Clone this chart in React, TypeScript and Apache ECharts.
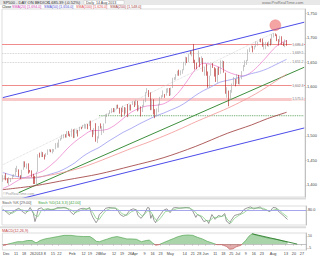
import React, { useEffect, useRef } from 'react';
import * as echarts from 'echarts';

// ---------- categories (trading days) ----------
const tradingDays: [string, number[]][] = [
  ['2012-11', [29, 30]],
  ['2012-12', [3, 4, 5, 6, 7, 10, 11, 12, 13, 14, 17, 18, 19, 20, 21, 24, 26, 27, 28, 31]],
  ['2013-01', [2, 3, 4, 7, 8, 9, 10, 11, 14, 15, 16, 17, 18, 22, 23, 24, 25, 28, 29, 30, 31]],
  ['2013-02', [1, 4, 5, 6, 7, 8, 11, 12, 13, 14, 15, 19, 20, 21, 22, 25, 26, 27, 28]],
  ['2013-03', [1, 4, 5, 6, 7, 8, 11, 12, 13, 14, 15, 18, 19, 20, 21, 22, 25, 26, 27, 28]],
  ['2013-04', [1, 2, 3, 4, 5, 8, 9, 10, 11, 12, 15, 16, 17, 18, 19, 22, 23, 24, 25, 26, 29, 30]],
  ['2013-05', [1, 2, 3, 6, 7, 8, 9, 10, 13, 14, 15, 16, 17, 20, 21, 22, 23, 24, 28, 29, 30, 31]],
  ['2013-06', [3, 4, 5, 6, 7, 10, 11, 12, 13, 14, 17, 18, 19, 20, 21, 24, 25, 26, 27, 28]],
  ['2013-07', [1, 2, 3, 5, 8, 9, 10, 11, 12, 15, 16, 17, 18, 19, 22, 23, 24, 25, 26, 29, 30, 31]],
  ['2013-08', [1, 2, 5, 6, 7, 8, 9, 12, 13, 14, 15, 16, 19, 20, 21, 22, 23, 26, 27, 28, 29]],
];
const dates: string[] = tradingDays.flatMap(([m, ds]) => ds.map((d) => `${m}-${String(d).padStart(2, '0')}`));

const tickLabels: [string, string][] = [
  ['2012-12-03', 'Dec'], ['2012-12-11', '11'], ['2012-12-18', '18'], ['2012-12-26', '26'],
  ['2013-01-02', '2013'], ['2013-01-08', '8'], ['2013-01-15', '15'], ['2013-01-22', '22'],
  ['2013-02-01', 'Feb'], ['2013-02-12', '12'], ['2013-02-19', '19'], ['2013-02-26', '26'],
  ['2013-03-01', 'Mar'], ['2013-03-12', '12'], ['2013-03-19', '19'], ['2013-03-26', '26'],
  ['2013-04-01', 'Apr'], ['2013-04-09', '9'], ['2013-04-16', '16'], ['2013-04-23', '23'],
  ['2013-05-01', 'May'], ['2013-05-14', '14'], ['2013-05-21', '21'], ['2013-05-28', '28'],
  ['2013-06-03', 'Jun'], ['2013-06-11', '11'], ['2013-06-18', '18'], ['2013-06-25', '25'],
  ['2013-07-01', 'Jul'], ['2013-07-09', '9'], ['2013-07-16', '16'], ['2013-07-23', '23'],
  ['2013-08-01', 'Aug'], ['2013-08-13', '13'], ['2013-08-20', '20'], ['2013-08-27', '27'],
];

// ---------- price data [open, close, low, high] ----------
const ohlc: number[][] = [
  [1409.9, 1416.0, 1405.9, 1419.7], [1416.0, 1416.2, 1411.1, 1418.9],
  [1416.3, 1409.5, 1409.0, 1423.7], [1409.5, 1407.1, 1403.2, 1413.1], [1407.1, 1409.3, 1398.8, 1415.6], [1409.4, 1413.9, 1405.6, 1413.9], [1413.9, 1418.1, 1411.6, 1420.3],
  [1418.1, 1418.6, 1415.8, 1421.6], [1418.6, 1427.8, 1418.6, 1434.3], [1427.8, 1428.5, 1426.0, 1438.6], [1428.5, 1419.5, 1416.4, 1431.4], [1419.5, 1413.6, 1411.9, 1419.5],
  [1413.5, 1430.4, 1413.5, 1430.7], [1430.5, 1446.8, 1430.5, 1448.0], [1446.8, 1435.8, 1435.7, 1447.8], [1435.8, 1443.7, 1432.8, 1443.7], [1443.7, 1430.2, 1422.6, 1443.7],
  [1430.2, 1426.7, 1425.0, 1430.2], [1426.7, 1419.8, 1415.7, 1429.4], [1419.8, 1418.1, 1401.6, 1422.4], [1418.1, 1402.4, 1401.6, 1418.1], [1402.4, 1426.2, 1398.1, 1426.7],
  [1426.2, 1462.4, 1426.2, 1462.4], [1462.4, 1459.4, 1455.5, 1465.5], [1459.4, 1466.5, 1456.6, 1467.9],
  [1466.5, 1461.9, 1456.6, 1466.5], [1461.9, 1457.2, 1451.6, 1461.9], [1457.2, 1461.0, 1457.2, 1464.7], [1461.0, 1472.1, 1461.0, 1472.3], [1472.1, 1472.1, 1467.6, 1472.8],
  [1472.1, 1470.7, 1466.4, 1472.1], [1470.7, 1472.3, 1463.8, 1473.3], [1472.3, 1472.6, 1467.4, 1473.0], [1472.6, 1480.9, 1472.6, 1485.2], [1480.9, 1486.0, 1475.6, 1486.0],
  [1486.0, 1492.6, 1475.9, 1492.6], [1492.6, 1494.8, 1489.9, 1496.1], [1494.8, 1494.8, 1492.9, 1502.3], [1494.8, 1503.0, 1494.8, 1503.3],
  [1503.0, 1500.2, 1496.3, 1503.2], [1500.2, 1507.8, 1496.3, 1509.7], [1507.8, 1502.0, 1499.9, 1509.9], [1502.0, 1498.1, 1498.1, 1504.4], [1498.1, 1513.2, 1498.1, 1514.4],
  [1513.2, 1495.7, 1495.3, 1513.2], [1495.7, 1511.3, 1495.7, 1514.8], [1511.3, 1512.1, 1504.4, 1512.5], [1512.1, 1509.4, 1498.5, 1512.1], [1509.4, 1517.9, 1509.4, 1518.3],
  [1517.9, 1517.0, 1513.5, 1518.3], [1517.0, 1519.4, 1515.6, 1522.3], [1519.4, 1520.3, 1514.8, 1524.7], [1520.3, 1521.4, 1514.5, 1523.1], [1521.4, 1519.8, 1513.5, 1524.2],
  [1519.8, 1530.9, 1519.8, 1530.9], [1530.9, 1512.0, 1511.4, 1530.9], [1512.0, 1502.4, 1497.3, 1512.0], [1502.4, 1515.6, 1502.4, 1515.6],
  [1515.6, 1487.9, 1487.9, 1525.8], [1487.9, 1496.9, 1485.0, 1498.9], [1496.9, 1516.0, 1494.4, 1520.1], [1516.0, 1514.7, 1514.7, 1525.3], [1514.7, 1518.2, 1501.5, 1519.9],
  [1518.2, 1525.2, 1506.0, 1525.3], [1525.2, 1539.8, 1525.2, 1543.5], [1539.8, 1541.5, 1538.1, 1545.3], [1541.5, 1544.3, 1541.5, 1545.8], [1544.3, 1551.2, 1544.3, 1552.5],
  [1551.2, 1556.2, 1546.2, 1556.3], [1556.2, 1552.5, 1548.2, 1556.8], [1552.5, 1554.5, 1548.0, 1556.4], [1554.5, 1563.2, 1554.5, 1563.3], [1563.2, 1560.7, 1555.7, 1563.6],
  [1560.7, 1552.1, 1545.1, 1557.0], [1552.1, 1548.3, 1538.6, 1557.3], [1548.3, 1558.7, 1548.3, 1561.6], [1558.7, 1545.8, 1543.0, 1558.7], [1545.8, 1556.9, 1545.8, 1557.7],
  [1556.9, 1551.7, 1538.2, 1564.9], [1551.7, 1563.8, 1551.7, 1563.9], [1563.8, 1562.9, 1551.6, 1564.1], [1562.9, 1569.2, 1562.9, 1570.3],
  [1569.2, 1562.2, 1558.7, 1570.6], [1562.2, 1570.3, 1562.2, 1573.7], [1570.3, 1553.7, 1549.9, 1571.5], [1553.7, 1560.0, 1551.6, 1562.6], [1560.0, 1553.3, 1539.5, 1560.0],
  [1553.3, 1563.1, 1548.6, 1563.1], [1563.1, 1568.6, 1559.0, 1573.9], [1568.6, 1587.7, 1568.6, 1589.1], [1587.7, 1593.4, 1586.7, 1597.4], [1593.3, 1588.9, 1579.0, 1593.3],
  [1588.8, 1552.4, 1552.4, 1588.8], [1552.4, 1574.6, 1552.4, 1575.4], [1574.6, 1552.0, 1543.5, 1574.6], [1552.0, 1541.6, 1536.0, 1554.4], [1541.6, 1555.3, 1539.4, 1555.9],
  [1555.3, 1562.5, 1548.2, 1565.6], [1562.5, 1578.8, 1562.5, 1579.6], [1578.8, 1578.8, 1575.6, 1583.0], [1578.8, 1585.2, 1578.8, 1592.6], [1585.2, 1582.2, 1577.6, 1585.2],
  [1582.2, 1593.6, 1582.2, 1596.7], [1593.6, 1597.6, 1587.9, 1597.6],
  [1597.6, 1582.7, 1581.3, 1597.6], [1582.7, 1597.6, 1582.7, 1598.6], [1597.6, 1614.4, 1597.6, 1618.5],
  [1614.4, 1617.5, 1614.1, 1619.8], [1617.5, 1626.0, 1614.6, 1626.0], [1626.0, 1632.7, 1622.7, 1632.8], [1632.7, 1626.7, 1622.7, 1635.0], [1626.7, 1633.7, 1623.7, 1633.7],
  [1633.7, 1633.8, 1626.7, 1636.0], [1633.8, 1650.3, 1633.8, 1651.1], [1650.3, 1658.8, 1643.6, 1661.5], [1658.8, 1650.5, 1648.6, 1660.5], [1650.5, 1667.5, 1650.5, 1667.5],
  [1667.5, 1666.3, 1666.3, 1672.8], [1666.3, 1669.2, 1662.3, 1674.9], [1669.2, 1655.4, 1648.6, 1687.2], [1655.4, 1650.5, 1635.5, 1655.4], [1650.5, 1649.6, 1636.0, 1649.6],
  [1649.6, 1660.1, 1649.6, 1674.2], [1660.1, 1648.4, 1640.1, 1660.1], [1648.4, 1654.4, 1648.4, 1662.3], [1654.4, 1630.7, 1630.7, 1658.9],
  [1630.7, 1640.4, 1622.7, 1640.4], [1640.4, 1631.4, 1622.7, 1646.5], [1631.4, 1608.9, 1598.2, 1631.4], [1608.9, 1622.6, 1598.2, 1622.6], [1622.6, 1643.4, 1622.6, 1644.4],
  [1643.4, 1642.8, 1638.6, 1648.7], [1642.8, 1626.1, 1621.0, 1640.1], [1626.1, 1612.5, 1610.0, 1637.7], [1612.5, 1636.4, 1608.6, 1639.3], [1636.4, 1626.7, 1624.3, 1640.8],
  [1626.7, 1639.0, 1626.7, 1654.2], [1639.0, 1651.8, 1639.0, 1654.2], [1651.8, 1628.9, 1628.9, 1652.5], [1628.9, 1588.2, 1585.8, 1628.9], [1588.2, 1592.4, 1577.7, 1599.2],
  [1592.4, 1573.1, 1560.3, 1592.4], [1573.1, 1588.0, 1573.1, 1593.8], [1588.0, 1603.3, 1588.0, 1606.8], [1603.3, 1613.2, 1603.3, 1620.1], [1613.2, 1606.3, 1601.1, 1615.9],
  [1606.3, 1615.0, 1606.3, 1626.0], [1615.0, 1614.1, 1605.5, 1624.3], [1614.1, 1615.4, 1604.6, 1618.0], [1615.4, 1631.9, 1615.4, 1632.1],
  [1631.9, 1640.5, 1631.9, 1644.7], [1640.5, 1652.3, 1640.5, 1654.2], [1652.3, 1652.6, 1644.7, 1655.0], [1652.6, 1675.0, 1652.6, 1676.6], [1675.0, 1680.2, 1671.0, 1680.2],
  [1680.2, 1682.5, 1679.8, 1684.5], [1682.5, 1676.3, 1670.5, 1683.7], [1676.3, 1680.9, 1676.3, 1684.0], [1680.9, 1689.4, 1680.9, 1693.1], [1689.4, 1692.1, 1684.1, 1692.1],
  [1692.1, 1695.5, 1691.8, 1697.6], [1695.5, 1692.4, 1691.0, 1698.8], [1692.4, 1685.9, 1681.9, 1698.4], [1685.9, 1690.3, 1676.0, 1690.9], [1690.3, 1691.7, 1676.9, 1691.7],
  [1691.7, 1685.3, 1683.1, 1690.9], [1685.3, 1686.0, 1681.9, 1693.2], [1686.0, 1685.7, 1684.6, 1698.4],
  [1685.7, 1706.9, 1685.7, 1707.9], [1706.9, 1709.7, 1700.7, 1709.7],
  [1709.7, 1707.1, 1703.6, 1709.2], [1707.1, 1697.4, 1693.3, 1707.1], [1697.4, 1690.9, 1684.5, 1697.4], [1690.9, 1697.5, 1690.9, 1704.1], [1697.5, 1691.4, 1686.0, 1703.2],
  [1691.4, 1689.5, 1683.3, 1690.9], [1689.5, 1694.2, 1681.0, 1696.8], [1694.2, 1685.4, 1684.0, 1695.5],
];

// moving averages [dayIndex, value]
const ma20: number[][] = [
  [0, 1392], [5, 1400], [10, 1410], [15, 1416], [20, 1422], [25, 1428], [30, 1440], [35, 1455], [40, 1473], [45, 1488],
  [50, 1500], [55, 1510], [60, 1511], [65, 1513], [70, 1522], [75, 1535], [80, 1548], [85, 1556], [90, 1561], [95, 1562],
  [100, 1565], [105, 1574], [110, 1590], [115, 1612], [120, 1635], [125, 1648], [130, 1646], [135, 1640], [140, 1631],
  [145, 1625], [150, 1622], [155, 1630], [160, 1645], [165, 1663], [170, 1681], [175, 1692], [177, 1694],
];
const ma50: number[][] = [
  [0, 1425], [5, 1420], [10, 1416], [15, 1414], [20, 1414], [25, 1417], [30, 1422], [35, 1427], [40, 1435], [45, 1445],
  [50, 1458], [55, 1468], [60, 1476], [65, 1487], [70, 1497], [75, 1507], [80, 1515], [85, 1524], [90, 1532], [95, 1540],
  [100, 1546], [105, 1553], [110, 1560], [115, 1570], [120, 1582], [125, 1592], [130, 1600], [135, 1609], [140, 1613],
  [145, 1617], [150, 1622], [155, 1627], [160, 1631], [165, 1637], [170, 1645], [175, 1653], [177, 1656],
];
const ma100: number[][] = [
  [0, 1412], [10, 1413], [20, 1415], [30, 1420], [40, 1427], [50, 1436], [60, 1448], [70, 1461], [80, 1474], [90, 1486],
  [100, 1499], [110, 1513], [120, 1528], [130, 1542], [140, 1556], [150, 1572], [160, 1590], [170, 1611], [177, 1626],
];
const ma200: number[][] = [
  [0, 1390], [20, 1398], [40, 1410], [60, 1422], [80, 1438], [100, 1455], [120, 1478], [140, 1505], [155, 1522], [165, 1535], [177, 1548],
];

// drawn trendlines and levels
const upperChannel: number[][] = [[0, 1578], [188, 1732]];
const lowerChannel: number[][] = [[12, 1372], [188, 1516]];
const greenTrend: number[][] = [[10, 1384], [188, 1640]];
const grayTrend: number[][] = [[0, 1441], [169, 1710]];
const supportLine: number[][] = [[60, 1541], [188, 1541]];
const redLevels: number[] = [1686.4, 1602.3];
const bandLevel = 1575.5;
const grayLevels: number[] = [1669.5, 1651.2];
const peakMarker: number[][] = [[170, 1726]];
const priceTicks: number[] = [1400, 1450, 1500, 1600, 1650, 1700, 1750];

// stochastic
const stochK: number[][] = [
  [0, 82], [2, 70], [4, 55], [6, 68], [8, 80], [10, 88], [12, 72], [14, 60], [16, 78], [17, 92], [19, 60], [20, 18], [21, 45], [22, 85],
  [24, 90], [26, 75], [28, 85], [30, 80], [32, 82], [34, 92], [36, 90], [38, 92], [40, 88], [42, 70], [44, 55], [46, 75], [48, 85],
  [50, 88], [52, 82], [54, 92], [55, 60], [56, 40], [58, 12], [59, 25], [60, 55], [62, 70], [64, 88], [66, 92], [68, 90], [70, 88],
  [72, 70], [73, 55], [75, 45], [77, 55], [79, 78], [81, 85], [83, 80], [84, 50], [86, 35], [88, 60], [90, 92], [91, 90], [92, 35],
  [93, 55], [94, 25], [95, 12], [96, 30], [98, 55], [100, 78], [102, 85], [104, 65], [106, 90], [108, 92], [110, 88], [112, 90],
  [114, 92], [116, 90], [118, 75], [120, 40], [121, 55], [123, 45], [125, 18], [127, 25], [128, 8], [130, 55], [132, 30], [134, 50],
  [136, 45], [138, 60], [139, 20], [140, 15], [141, 5], [142, 25], [144, 50], [146, 55], [148, 60], [150, 82], [152, 90], [154, 95],
  [156, 85], [158, 90], [160, 95], [162, 80], [164, 78], [166, 70], [168, 92], [170, 90], [171, 75], [173, 60], [175, 45], [177, 29],
];
const stochD: number[][] = [
  [0, 80], [3, 70], [6, 62], [9, 78], [12, 80], [15, 70], [18, 80], [20, 50], [22, 45], [24, 78], [27, 85], [30, 82], [33, 85],
  [36, 90], [39, 90], [42, 82], [45, 65], [48, 75], [51, 85], [54, 86], [56, 65], [58, 35], [60, 30], [62, 55], [64, 75], [67, 88],
  [70, 90], [72, 80], [74, 60], [77, 50], [80, 70], [83, 80], [85, 60], [87, 45], [90, 75], [92, 70], [94, 40], [96, 20], [98, 35],
  [101, 70], [104, 75], [107, 82], [110, 90], [113, 90], [116, 90], [119, 75], [121, 55], [124, 45], [127, 20], [129, 25], [131, 40],
  [133, 40], [136, 45], [138, 50], [140, 25], [142, 12], [144, 35], [147, 52], [150, 65], [153, 85], [156, 90], [159, 88], [162, 88],
  [165, 75], [168, 78], [171, 85], [174, 62], [177, 42],
];
const stochLevel = 80;

// MACD
const macd: number[][] = [
  [0, -2], [3, 0], [6, 1.5], [9, 3], [12, 3], [15, 4.5], [18, 4.5], [20, 2], [21, 2], [23, 4.5], [26, 6.5], [30, 8], [34, 9.5], [38, 11],
  [42, 11], [46, 10], [50, 9.5], [54, 9.5], [56, 7], [58, 3.5], [60, 3], [62, 4.5], [65, 6.5], [68, 8.5], [71, 9.5], [74, 8], [77, 6.5],
  [80, 6.5], [83, 6], [86, 3], [89, 4.5], [91, 5], [93, 1.5], [95, -1.5], [97, -0.7], [100, 2], [103, 4.5], [106, 7], [109, 9.5],
  [112, 11], [115, 11.5], [118, 11], [121, 8.5], [124, 6.5], [127, 3.5], [130, 1.5], [133, -0.7], [136, -0.7], [139, -3], [141, -6.5],
  [143, -6], [145, -3.5], [148, -1.5], [151, 4.5], [153, 10], [155, 13], [157, 11.5], [160, 10], [163, 8.5], [166, 7], [169, 6.5],
  [172, 5], [175, 3.5], [177, 2.5],
];
const macdTrend: number[][] = [[155, 13], [183, 0]];
const macdTicks: number[] = [10, -5];

const last = (a: number[][]) => a[a.length - 1][1];
const fmt1 = (v: number) => {
  const [i, d] = v.toFixed(1).split('.');
  return i.replace(/\B(?=(\d{3})+(?!\d))/g, ',') + '.' + d;
};
const fmt0 = (v: number) => String(Math.round(v)).replace(/\B(?=(\d{3})+(?!\d))/g, ',');

const FONT = 'Liberation Sans';

function tag(value: number, bg: string, fg: string, decimals = 1) {
  return {
    silent: true,
    symbol: 'none',
    data: [{ yAxis: value }],
    lineStyle: { opacity: 0 },
    label: {
      show: true,
      position: 'end',
      distance: 1,
      formatter: () => (decimals === 1 ? fmt1(value) : value.toFixed(decimals)),
      fontSize: 3.3,
      lineHeight: 3.6,
      fontFamily: FONT,
      color: fg,
      backgroundColor: bg,
      padding: [0, 0.5],
    },
  };
}

function buildOption(): any {
  const tickMap = new Map(tickLabels);
  const lastClose = ohlc[ohlc.length - 1][1];
  const lineBase = { type: 'line', symbol: 'none', silent: true, xAxisIndex: 0, yAxisIndex: 0 };
  const innerLabel = (v: number) => ({
    show: true,
    position: 'insideEnd',
    formatter: () => fmt1(v),
    fontSize: 3.4,
    lineHeight: 3.6,
    fontFamily: FONT,
    color: '#777',
    backgroundColor: 'rgba(255,255,255,0.85)',
    padding: [0, 0.5],
    distance: 1,
  });
  const hidden = { show: false };
  const axisGray = { lineStyle: { color: '#b4b4b4', width: 0.8 } };

  return {
    animation: false,
    backgroundColor: '#ffffff',
    textStyle: { fontFamily: FONT },
    grid: [
      { left: 2, right: 14, top: 9, height: 188, show: true, borderColor: '#d4d4d4', borderWidth: 0.8 },
      { left: 2, right: 14, top: 206, height: 19, show: true, borderColor: '#d4d4d4', borderWidth: 0.8 },
      { left: 2, right: 14, top: 233, height: 17, show: true, borderColor: '#d4d4d4', borderWidth: 0.8 },
    ],
    xAxis: [
      { type: 'category', gridIndex: 0, data: dates, boundaryGap: true, axisLine: hidden, axisTick: hidden, axisLabel: hidden, splitLine: hidden },
      { type: 'category', gridIndex: 1, data: dates, boundaryGap: true, axisLine: hidden, axisTick: hidden, axisLabel: hidden, splitLine: hidden },
      {
        type: 'category', gridIndex: 2, data: dates, boundaryGap: true,
        axisLine: { show: true, ...axisGray },
        axisTick: { show: true, length: 1.5, interval: (_i: number, v: string) => tickMap.has(v), ...axisGray },
        axisLabel: {
          show: true, interval: (_i: number, v: string) => tickMap.has(v), formatter: (v: string) => tickMap.get(v) || '',
          fontSize: 3.8, color: '#444', margin: 1.8, fontFamily: FONT,
        },
        splitLine: hidden,
      },
    ],
    yAxis: [
      {
        type: 'value', gridIndex: 0, position: 'right', min: 1375, max: 1759, scale: true,
        axisLine: { show: true, ...axisGray },
        axisTick: { show: true, length: 1.5, customValues: priceTicks, ...axisGray },
        axisLabel: { show: true, customValues: priceTicks, formatter: (v: number) => fmt0(v), fontSize: 4, color: '#444', margin: 2, fontFamily: FONT },
        splitLine: hidden,
      },
      {
        type: 'value', gridIndex: 1, position: 'right', min: 0, max: 100,
        axisLine: { show: true, ...axisGray },
        axisTick: { show: true, length: 1.5, customValues: [stochLevel], ...axisGray },
        axisLabel: { show: true, customValues: [stochLevel], formatter: (v: number) => v.toFixed(1), fontSize: 3.8, color: '#444', margin: 2, fontFamily: FONT },
        splitLine: hidden,
      },
      {
        type: 'value', gridIndex: 2, position: 'right', min: -7.5, max: 14,
        axisLine: { show: true, ...axisGray },
        axisTick: { show: true, length: 1.5, customValues: macdTicks, ...axisGray },
        axisLabel: { show: true, customValues: macdTicks, formatter: (v: number) => String(v), fontSize: 3.4, lineHeight: 3.6, color: '#444', margin: 2, fontFamily: FONT },
        splitLine: hidden,
      },
    ],
    visualMap: [
      {
        show: false, type: 'piecewise', seriesIndex: 13, dimension: 1,
        pieces: [{ gte: -100, lt: 0, color: '#c45a5a' }, { gte: 0, lte: 100, color: '#55a855' }],
      },
    ],
    series: [
      {
        type: 'candlestick', xAxisIndex: 0, yAxisIndex: 0, data: ohlc, barWidth: '70%', silent: true, z: 5,
        itemStyle: { color: '#ffffff', color0: '#d41a1a', borderColor: '#a2a2a2', borderColor0: '#b01010', borderWidth: 0.6 },
        markLine: {
          silent: true, symbol: 'none', z: 1,
          data: [
            ...redLevels.map((v) => ({ yAxis: v, lineStyle: { color: '#f08c8c', width: 1, type: 'solid' }, label: innerLabel(v) })),
            { yAxis: bandLevel, lineStyle: { color: '#f9c9c9', width: 3, type: 'solid' }, label: innerLabel(bandLevel) },
            ...grayLevels.map((v) => ({ yAxis: v, lineStyle: { color: '#c4c4c4', width: 0.8, type: 'dotted' }, label: innerLabel(v) })),
          ],
        },
      },
      { ...lineBase, data: ma20, smooth: 0.3, z: 4, lineStyle: { color: '#ee86cf', width: 0.8 }, markLine: tag(last(ma20), '#f6c8ea', '#b02a90') },
      { ...lineBase, data: ma50, smooth: 0.3, z: 4, lineStyle: { color: '#9a9af0', width: 0.8 }, markLine: tag(last(ma50), '#d4d4fa', '#3434b0') },
      { ...lineBase, data: ma100, smooth: 0.3, z: 4, lineStyle: { color: '#f29494', width: 0.8 }, markLine: tag(last(ma100), '#f9d4d4', '#c02c2c') },
      { ...lineBase, data: ma200, smooth: 0.3, z: 4, lineStyle: { color: '#a64c4c', width: 0.9 }, markLine: { ...tag(last(ma200), '#f4d4d4', '#8a2a2a'), z: 6 } },
      { ...lineBase, data: upperChannel, z: 3, lineStyle: { color: '#4b4bea', width: 1 } },
      { ...lineBase, data: lowerChannel, z: 3, lineStyle: { color: '#4b4bea', width: 1 } },
      { ...lineBase, data: greenTrend, z: 3, lineStyle: { color: '#3d8f3d', width: 1 } },
      { ...lineBase, data: grayTrend, z: 3, lineStyle: { color: '#cfcfcf', width: 0.8, type: 'dotted' } },
      { ...lineBase, data: supportLine, z: 3, lineStyle: { color: '#4f9a4f', width: 0.9, type: 'dotted' } },
      {
        type: 'scatter', xAxisIndex: 0, yAxisIndex: 0, data: peakMarker, symbolSize: 11, silent: true, z: 6,
        itemStyle: { color: 'rgba(238,98,98,0.72)', borderColor: 'rgba(220,70,70,0.6)', borderWidth: 0.5 },
        markLine: { ...tag(lastClose, '#f0c800', '#222'), z: 7 },
      },
      {
        type: 'line', symbol: 'none', silent: true, xAxisIndex: 1, yAxisIndex: 1, data: stochK,
        lineStyle: { color: '#6e6e6e', width: 0.7 },
        markLine: {
          silent: true, symbol: 'none',
          data: [
            { yAxis: stochLevel, lineStyle: { color: '#9c9cea', width: 0.9, type: 'solid' }, label: { show: false } },
          ],
        },
      },
      {
        type: 'line', symbol: 'none', silent: true, xAxisIndex: 1, yAxisIndex: 1, data: stochD,
        lineStyle: { color: '#78c878', width: 0.7 },
        markLine: tag((last(stochD) + last(stochK)) / 2, '#d6f0d6', '#2a7a2a', 2),
      },
      {
        type: 'line', symbol: 'none', silent: true, xAxisIndex: 2, yAxisIndex: 2, data: macd,
        lineStyle: { width: 0.7 }, areaStyle: { opacity: 0.5 },
        markLine: tag(last(macd), '#f6caca', '#b02020', 2),
      },
      {
        type: 'line', symbol: 'none', silent: true, xAxisIndex: 2, yAxisIndex: 2, data: macdTrend,
        lineStyle: { color: '#2f7f2f', width: 0.9 },
      },
    ],
    graphic: [
      { type: 'rect', shape: { x: 0, y: 0, width: 320, height: 5 }, style: { fill: '#e8e8e8' }, silent: true },
      { type: 'text', x: 3, y: 0.4, style: { text: 'SP500 - DAY ON BEDICK', fontSize: 4, fill: '#333', fontFamily: FONT } },
      { type: 'text', x: 48, y: 0.4, style: { text: '1,685.39 (-0.52%)', fontSize: 4, fill: '#333', fontFamily: FONT } },
      { type: 'rect', shape: { x: 84, y: 0.5, width: 40, height: 4 }, style: { fill: '#ffffff', stroke: '#bbbbbb', lineWidth: 0.4 }, silent: true },
      { type: 'text', x: 86, y: 0.6, style: { text: 'Daily  14 Aug 2013', fontSize: 3.6, fill: '#444', fontFamily: FONT } },
      { type: 'text', x: 262, y: 0.6, style: { text: 'www.ProRealTime.com', fontSize: 4, fill: '#777', fontFamily: FONT } },
      { type: 'text', x: 2, y: 5.3, style: { text: 'Close', fontSize: 3.6, fill: '#222', fontFamily: FONT } },
      { type: 'text', x: 12, y: 5.3, style: { text: `SMA(20) [${fmt1(last(ma20))}]`, fontSize: 3.6, fill: '#d040b0', fontFamily: FONT } },
      { type: 'text', x: 44, y: 5.3, style: { text: `SMA(50) [${fmt1(last(ma50))}]`, fontSize: 3.6, fill: '#5050d0', fontFamily: FONT } },
      { type: 'text', x: 76, y: 5.3, style: { text: `SMA(100) [${fmt1(last(ma100))}]`, fontSize: 3.6, fill: '#e05050', fontFamily: FONT } },
      { type: 'text', x: 110, y: 5.3, style: { text: `SMA(200) [${fmt1(last(ma200))}]`, fontSize: 3.6, fill: '#a04040', fontFamily: FONT } },
      { type: 'text', x: 3, y: 192, style: { text: '©ProRealTime.com', fontSize: 3.6, fill: '#999', fontFamily: FONT } },
      { type: 'rect', shape: { x: 0, y: 197.5, width: 306, height: 2 }, style: { fill: '#dcdcdc' }, silent: true },
      { type: 'text', x: 2, y: 200.5, style: { text: `Stoch %K [${last(stochK).toFixed(2)}]`, fontSize: 3.8, fill: '#555', fontFamily: FONT } },
      { type: 'text', x: 38, y: 200.5, style: { text: `Stoch %D(14,3,3) [${last(stochD).toFixed(2)}]`, fontSize: 3.8, fill: '#3a9a3a', fontFamily: FONT } },
      { type: 'rect', shape: { x: 0, y: 226.3, width: 306, height: 2 }, style: { fill: '#dcdcdc' }, silent: true },
      { type: 'text', x: 2, y: 229, style: { text: 'MACD(12,26,9)', fontSize: 3.8, fill: '#c04040', fontFamily: FONT } },
    ],
  };
}

export default function App() {
  const ref = useRef<HTMLDivElement>(null);
  useEffect(() => {
    if (!ref.current) return;
    const chart = echarts.init(ref.current, null, { renderer: 'svg' });
    chart.setOption(buildOption());
    return () => chart.dispose();
  }, []);
  return <div ref={ref} style={{ position: 'absolute', left: 0, top: 0, width: 320, height: 256 }} />;
}
